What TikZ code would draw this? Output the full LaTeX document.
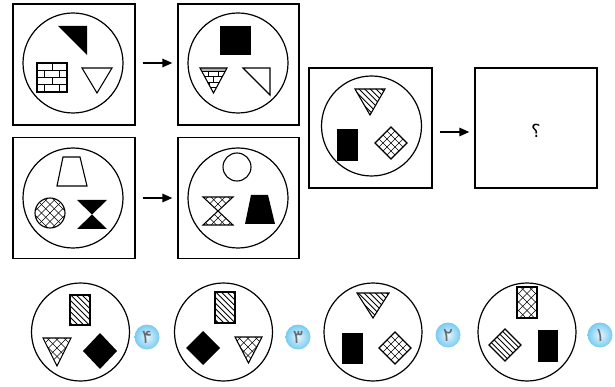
\documentclass[tikz,border=0pt]{standalone}
\usepackage{fontspec}
\newfontfamily\arabicfont[Script=Arabic]{DejaVu Sans}
\usetikzlibrary{arrows.meta}
\definecolor{badgein}{HTML}{E4F5FD}
\definecolor{badgeout}{HTML}{78CBF1}
\definecolor{digitgray}{HTML}{666A6C}
\tikzset{
  framebox/.style={draw, line width=1.3pt, minimum width=#1, minimum height=121pt, inner sep=0pt},
  framebox/.default=122pt,
  disc/.style={draw, circle, line width=1.2pt, minimum size=#1, inner sep=0pt},
  disc/.default=100pt,
  arr/.style={line width=1.4pt, -{Triangle[length=10pt,width=8.5pt]}, shorten <=7pt, shorten >=5pt},
  shp/.style={line width=1.1pt, line join=miter},
  hl/.style={line width=0.45pt},
  sl/.style={line width=0.9pt},
  badge/.style={circle, minimum size=25pt, inner sep=0pt, font=\arabicfont\fontsize{19}{19}\selectfont, text=digitgray}
}
% #1 path, #2 centre, #3 angle, #4 spacing, #5 line style
\newcommand\hatchset[5]{\begin{scope}\clip #1;\begin{scope}[shift={#2},rotate=#3]\foreach \k in {-14,...,14}{\draw[#5] (\k*#4,-45) -- (\k*#4,45);}\end{scope}\end{scope}}
\newcommand\crossfill[3]{\hatchset{#1}{#2}{45}{#3}{hl}\hatchset{#1}{#2}{-45}{#3}{hl}\draw[shp] #1;}
\newcommand\stripefill[2]{\hatchset{#1}{#2}{45}{4}{sl}\draw[shp] #1;}
\newcommand\badgedisc[3]{\shade[inner color=badgein, outer color=badgeout] #1 circle (12.5);\node[badge] (#2) at #1 {\beginR#3\endR};}
\TeXXeTstate=1
\begin{document}
\begin{tikzpicture}[x=1pt,y=-1pt]
\useasboundingbox (0,0) rectangle (615,387);
% ---------- frames ----------
\node[framebox] (b1) at (74,64.5) {};
\node[framebox=121pt] (b2) at (238.5,64.5) {};
\node[framebox] (b3) at (74,198) {};
\node[framebox=121pt] (b4) at (238.5,198) {};
\node[framebox=123pt, minimum height=120pt] (b5) at (370.5,128) {};
\node[framebox, minimum height=120pt] (b6) at (536,128) {};
\draw[arr] ([yshift=1.5pt]b1.east) -- ([yshift=1.5pt]b2.west);
\draw[arr] (b3.east) -- (b4.west);
\draw[arr] ([yshift=-4pt]b5.east) -- ([yshift=-4pt]b6.west);
\node[font=\arabicfont\fontsize{18}{18}\selectfont] (q) at (536,131) {\beginR ؟\endR};
% ---------- circles ----------
\node[disc] (c1) at (73,63) {};
\node[disc] (c2) at (238,63) {};
\node[disc] (c3) at (73,198) {};
\node[disc] (c4) at (238,198) {};
\node[disc] (c5) at (371.5,126) {};
\node[disc=98pt] (o4) at (80.5,332) {};
\node[disc=98pt] (o3) at (223.5,332) {};
\node[disc=98pt] (o2) at (373,332) {};
\node[disc=98pt] (o1) at (527,332) {};
% ---------- box 1 ----------
\fill (58,26) -- (87,26) -- (87,55) -- cycle;
\draw[shp] (37,63) rectangle (67,92);
\draw[line width=1pt] (37,70.25) -- (67,70.25) (37,77.5) -- (67,77.5) (37,84.75) -- (67,84.75)
  (52,63) -- (52,70.25) (44.5,70.25) -- (44.5,77.5) (59.5,70.25) -- (59.5,77.5)
  (52,77.5) -- (52,84.75) (44.5,84.75) -- (44.5,92) (59.5,84.75) -- (59.5,92);
\draw[shp] (82,68) -- (112,68) -- (97,93) -- cycle;
% ---------- box 2 ----------
\fill (220,26) rectangle (251,55);
\begin{scope}
\clip (200,68) -- (227,68) -- (213.5,93) -- cycle;
\fill[gray!60] (195,67) rectangle (232,71);
\draw[line width=0.9pt] (195,71) -- (232,71) (195,76) -- (232,76) (195,82) -- (232,82) (195,87) -- (232,87)
  (208,71) -- (208,76) (218,71) -- (218,76) (213.5,76) -- (213.5,82) (209,82) -- (209,87) (218,82) -- (218,87);
\end{scope}
\draw[shp] (200,68) -- (227,68) -- (213.5,93) -- cycle;
\draw[shp] (243,68) -- (270,68) -- (270,95) -- cycle;
% ---------- box 3 ----------
\draw[shp] (63,157) -- (80,157) -- (87,186) -- (57,186) -- cycle;
\crossfill{(50,213) circle (15)}{(50,213)}{6}
\fill (77,200) -- (107,200) -- (92,214.5) -- cycle;
\fill (77,229) -- (107,229) -- (92,214.5) -- cycle;
% ---------- box 4 ----------
\draw[shp] (237,167) circle (14);
\crossfill{(203,197) -- (233,197) -- (218,211) -- cycle}{(218,204)}{6}
\crossfill{(203,225) -- (233,225) -- (218,211) -- cycle}{(218,218)}{6}
\fill (251,195) -- (268,195) -- (275,224) -- (245,224) -- cycle;
% ---------- box 5 ----------
\stripefill{(355,89) -- (385,89) -- (370,115) -- cycle}{(370,100)}
\fill (337,129) rectangle (358,161);
\crossfill{(391,127) -- (407,143) -- (391,159) -- (375,143) -- cycle}{(391,143)}{5.657}
% ---------- option 4 ----------
\stripefill{(70,295) rectangle (90,325)}{(80,310)}
\crossfill{(43,338) -- (71,338) -- (57,366) -- cycle}{(57,348)}{6}
\fill (100,333) -- (117,351) -- (100,369) -- (83,351) -- cycle;
% ---------- option 3 ----------
\stripefill{(215,292) rectangle (235,323)}{(225,307)}
\fill (203,331) -- (220,348) -- (203,365) -- (186,348) -- cycle;
\crossfill{(235,337) -- (262,337) -- (248.5,363) -- cycle}{(248,347)}{6}
% ---------- option 2 ----------
\stripefill{(357,293) -- (389,293) -- (373,318) -- cycle}{(373,302)}
\fill (342,333) rectangle (363,364);
\crossfill{(395,332) -- (411,348) -- (395,364) -- (379,348) -- cycle}{(395,348)}{5.657}
% ---------- option 1 ----------
\crossfill{(517,287) rectangle (537,318)}{(527,302)}{6}
\stripefill{(505,329) -- (521,345) -- (505,361) -- (489,345) -- cycle}{(505,345)}
\fill (538,330) rectangle (558,362);
% ---------- badges ----------
\badgedisc{(147,337)}{n4}{۴}
\badgedisc{(298,337)}{n3}{۳}
\badgedisc{(448,335)}{n2}{۲}
\badgedisc{(600,335)}{n1}{۱}
\end{tikzpicture}
\end{document}
